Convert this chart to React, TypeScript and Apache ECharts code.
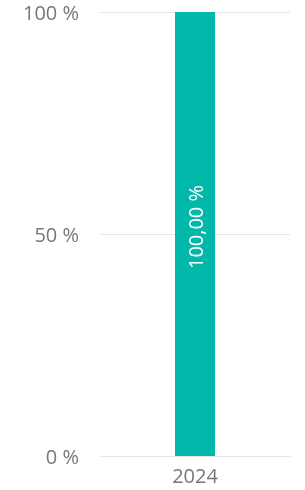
import React, { useEffect, useRef } from "react";
import * as echarts from "echarts";

const categories = ["2024"];
const values = [100];
const yTicks = [0, 50, 100];

export default function App() {
  const ref = useRef<HTMLDivElement>(null);
  useEffect(() => {
    if (!ref.current) return;
    const chart = echarts.init(ref.current, null, { renderer: "svg" });
    chart.setOption({
      animation: false,
      grid: { left: 100, right: 15, top: 12, bottom: 34 },
      xAxis: {
        type: "category",
        data: categories,
        axisLine: { show: true, lineStyle: { color: "#e6e6e6" } },
        axisTick: { show: false },
        axisLabel: { color: "#777", fontSize: 20, fontFamily: "Open Sans", margin: 9 },
      },
      yAxis: {
        type: "value",
        min: yTicks[0],
        max: yTicks[yTicks.length - 1],
        interval: 50,
        axisLine: { show: false },
        axisTick: { show: false },
        splitLine: { lineStyle: { color: "#e6e6e6" } },
        axisLabel: {
          color: "#777",
          fontSize: 20,
          fontFamily: "Open Sans",
          margin: 21,
          formatter: (v: number) => `${v} %`,
        },
      },
      series: [
        {
          type: "bar",
          data: values,
          barWidth: 40,
          itemStyle: { color: "#01B8AA" },
          label: {
            show: true,
            position: "inside",
            rotate: 90,
            offset: [7, 0],
            color: "#fff",
            fontSize: 20,
            fontFamily: "Open Sans",
            formatter: (p: any) => `${p.value.toFixed(2).replace(".", ",")} %`,
          },
        },
      ],
    });
    return () => chart.dispose();
  }, []);
  return (
    <div
      ref={ref}
      style={{ position: "fixed", left: 0, top: 0, width: 305, height: 490 }}
    />
  );
}
